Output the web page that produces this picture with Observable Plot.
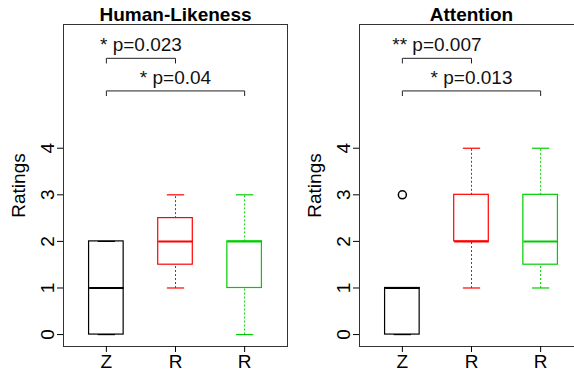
<!DOCTYPE html>
<html>
<head>
<meta charset="utf-8">
<script src="https://cdn.jsdelivr.net/npm/d3@7"></script>
<script src="https://cdn.jsdelivr.net/npm/@observablehq/plot@0.6"></script>
<style>
  html, body { margin: 0; padding: 0; background: #fff; }
  #wrap { position: relative; width: 574px; height: 374px; overflow: hidden; }
  #wrap > div { position: absolute; top: 0; width: 296px; height: 374px; }
  #wrap svg { max-width: none !important; width: 296px; height: 374px; display: block; }
</style>
</head>
<body>
<div id="wrap"><div id="p1" style="left:0px"></div><div id="p2" style="left:296px"></div></div>
<script>
// ---- data ----
const groups = ["Z", "R", "R"];
const groupColors = ["black", "red", "#00cd00"];

const panelTitles = ["Human-Likeness", "Attention"];

// Human-Likeness boxplot stats
const humanMin = [0, 1, 0];
const humanQ1 = [0, 1.5, 1];
const humanMedian = [1, 2, 2];
const humanQ3 = [2, 2.5, 2];
const humanMax = [2, 3, 3];
const humanOutliers = [[], [], []];
const humanTests = ["* p=0.023", "* p=0.04"];

// Attention boxplot stats
const attnMin = [0, 1, 1];
const attnQ1 = [0, 2, 1.5];
const attnMedian = [1, 2, 2];
const attnQ3 = [1, 3, 3];
const attnMax = [1, 4, 4];
const attnOutliers = [[3], [], []];
const attnTests = ["** p=0.007", "* p=0.013"];

// comparison brackets (group index pairs, bracket heights in rating units)
const testPairs = [[1, 2], [1, 3]];
const bracketY = [5.93, 5.23];
const bracketDrop = 0.11;
const labelLift = 0.29;

const yTicks = [0, 1, 2, 3, 4];

// ---- drawing ----
const font = "'Liberation Sans', Arial, Helvetica, sans-serif";
const FS = 19;

function panel(title, mins, q1s, meds, q3s, maxs, outs, tests) {
  const boxes = groups.map((g, i) => ({
    pos: i + 1, color: groupColors[i],
    min: mins[i], q1: q1s[i], med: meds[i], q3: q3s[i], max: maxs[i]
  }));
  const outliers = outs.flatMap((arr, i) => arr.map(v => ({pos: i + 1, v, color: groupColors[i]})));
  const brackets = testPairs.map(([a, b], i) => ({a, b, y: bracketY[i], label: tests[i]}));
  const hw = 0.25, cw = 0.125;
  return Plot.plot({
    width: 296,
    height: 374,
    marginLeft: 63,
    marginRight: 9,
    marginTop: 24,
    marginBottom: 28,
    style: {fontFamily: font, fontSize: FS + "px", background: "white", color: "black", maxWidth: "none"},
    x: {domain: [0.38, 3.62]},
    y: {domain: [-0.256, 6.656]},
    color: {type: "identity"},
    marks: [
      Plot.frame({stroke: "#333", strokeWidth: 1}),
      // whiskers
      Plot.link(boxes, {x1: "pos", x2: "pos", y1: "q3", y2: "max", stroke: "color", strokeDasharray: "2,2", strokeWidth: 1}),
      Plot.link(boxes, {x1: "pos", x2: "pos", y1: "min", y2: "q1", stroke: "color", strokeDasharray: "2,2", strokeWidth: 1}),
      // caps
      Plot.link(boxes, {x1: d => d.pos - cw, x2: d => d.pos + cw, y1: "max", y2: "max", stroke: "color", strokeWidth: 1.2}),
      Plot.link(boxes, {x1: d => d.pos - cw, x2: d => d.pos + cw, y1: "min", y2: "min", stroke: "color", strokeWidth: 1.2}),
      // boxes
      Plot.rect(boxes, {x1: d => d.pos - hw, x2: d => d.pos + hw, y1: "q1", y2: "q3", fill: "none", stroke: "color", strokeWidth: 1.2}),
      // medians
      Plot.link(boxes, {x1: d => d.pos - hw, x2: d => d.pos + hw, y1: "med", y2: "med", stroke: "color", strokeWidth: 2}),
      // outliers
      Plot.dot(outliers, {x: "pos", y: "v", r: 4, stroke: "color", strokeWidth: 1.5, fill: "none"}),
      // brackets
      Plot.link(brackets, {x1: "a", x2: "b", y1: "y", y2: "y", stroke: "#222", strokeWidth: 1}),
      Plot.link(brackets, {x1: "a", x2: "a", y1: "y", y2: d => d.y - bracketDrop, stroke: "#222", strokeWidth: 1}),
      Plot.link(brackets, {x1: "b", x2: "b", y1: "y", y2: d => d.y - bracketDrop, stroke: "#222", strokeWidth: 1}),
      Plot.text(brackets, {x: d => (d.a + d.b) / 2, y: d => d.y + labelLift, text: "label", fontSize: FS, fill: "#111"}),
      // axes
      Plot.axisY({ticks: yTicks, tickFormat: d => String(d), tickSize: 6, tickPadding: 4, tickRotate: -90, label: "Ratings", labelAnchor: "center", labelArrow: "none", labelOffset: 52, fontSize: FS}),
      Plot.axisX({ticks: [1, 2, 3], tickFormat: d => groups[d - 1], tickSize: 6, tickPadding: 2, label: null, fontSize: FS}),
      // title
      Plot.text([title], {frameAnchor: "top", dy: -4, lineAnchor: "bottom", fontWeight: "bold", fontSize: FS, fill: "black"})
    ]
  });
}

document.getElementById("p1").appendChild(
  panel(panelTitles[0], humanMin, humanQ1, humanMedian, humanQ3, humanMax, humanOutliers, humanTests));
document.getElementById("p2").appendChild(
  panel(panelTitles[1], attnMin, attnQ1, attnMedian, attnQ3, attnMax, attnOutliers, attnTests));
</script>
</body>
</html>
